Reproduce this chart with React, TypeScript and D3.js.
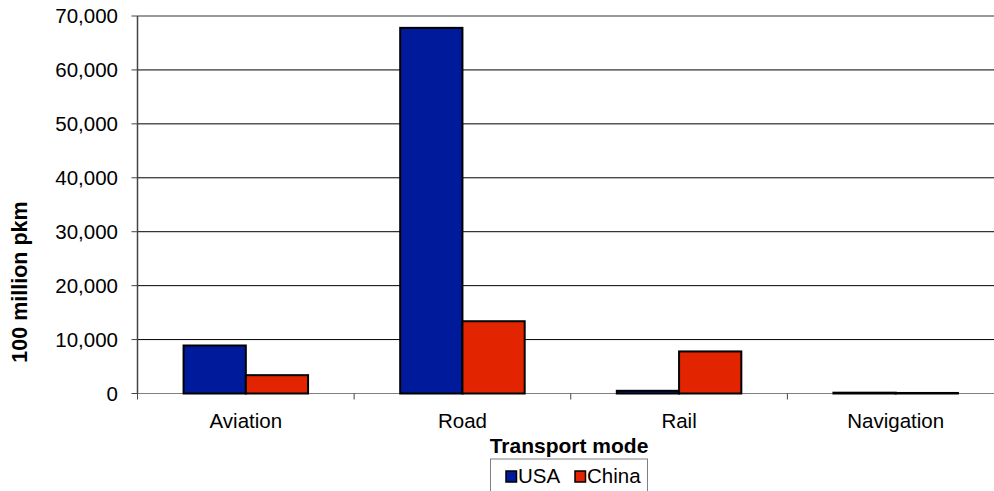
import React from "react";
import * as d3 from "d3";

const categories = ["Aviation", "Road", "Rail", "Navigation"];
const seriesNames = ["USA", "China"];
const usaValues = [8900, 67800, 500, 150];
const chinaValues = [3400, 13400, 7800, 100];
const yTicks = [0, 10000, 20000, 30000, 40000, 50000, 60000, 70000];
const colors = ["#001a9c", "#e32400"];

const W = 994;
const H = 491;
const FONT = "'Liberation Sans', Arial, sans-serif";
const FS = 20.5;

export default function App() {
  const left = 137.5;
  const right = 1004;
  const top = 16;
  const bottom = 393.5;

  const x = d3.scaleBand<string>().domain(categories).range([left, right]).paddingInner(0).paddingOuter(0);
  const inner = d3
    .scaleBand<string>()
    .domain(seriesNames)
    .range([0, x.bandwidth()])
    .paddingInner(0)
    .paddingOuter(0.74);
  const y = d3.scaleLinear().domain([0, 70000]).range([bottom, top]);
  const fmt = d3.format(",");
  const series = [usaValues, chinaValues];

  return (
    <svg
      width={W}
      height={H}
      style={{ position: "absolute", left: 0, top: 0, background: "#fff" }}
      fontFamily={FONT}
    >
      {/* gridlines */}
      {yTicks.map((t) => (
        <line
          key={t}
          x1={left}
          x2={W}
          y1={y(t)}
          y2={y(t)}
          stroke={t === 70000 ? "#999" : t === 0 ? "#808080" : "#000"}
          strokeWidth={t === 70000 ? 2 : 1}
        />
      ))}
      {/* y axis */}
      <line x1={left} x2={left} y1={top} y2={bottom} stroke="#444" strokeWidth={1.5} />
      {yTicks.map((t) => (
        <g key={"yt" + t}>
          <line x1={left - 6} x2={left} y1={y(t)} y2={y(t)} stroke="#444" />
          <text x={left - 19.5} y={y(t)} dy="0.36em" textAnchor="end" fontSize={FS} fill="#000">
            {fmt(t)}
          </text>
        </g>
      ))}
      {/* x ticks */}
      {categories.map((c, i) => (
        <line
          key={"xt" + c}
          x1={left + i * x.bandwidth()}
          x2={left + i * x.bandwidth()}
          y1={bottom}
          y2={bottom + 6}
          stroke="#444"
        />
      ))}
      {/* bars */}
      {categories.map((c, i) => (
        <g key={c}>
          {series.map((vals, s) => {
            const bx = (x(c) as number) + (inner(seriesNames[s]) as number);
            return (
              <rect
                key={s}
                x={bx}
                y={y(vals[i])}
                width={inner.bandwidth()}
                height={bottom - y(vals[i])}
                fill={colors[s]}
                stroke="#000"
                strokeWidth={2}
              />
            );
          })}
          <text
            x={(x(c) as number) + x.bandwidth() / 2}
            y={428}
            textAnchor="middle"
            fontSize={FS}
            fill="#000"
          >
            {c}
          </text>
        </g>
      ))}
      {/* axis titles */}
      <text x={569} y={452.5} textAnchor="middle" fontSize={21} fontWeight="bold" fill="#000">
        Transport mode
      </text>
      <text
        transform={`translate(27, 282) rotate(-90)`}
        textAnchor="middle"
        fontSize={21.5}
        fontWeight="bold"
        fill="#000"
      >
        100 million pkm
      </text>
      {/* legend */}
      <rect x={490.5} y={459} width={157} height={40} fill="#fff" stroke="#808080" />
      {seriesNames.map((n, s) => {
        const lx = s === 0 ? 506 : 575;
        return (
          <g key={n}>
            <rect x={lx} y={471} width={10.5} height={11} fill={colors[s]} stroke="#000" strokeWidth={1.5} />
            <text x={lx + 12} y={483} fontSize={FS} fill="#000">
              {n}
            </text>
          </g>
        );
      })}
    </svg>
  );
}
